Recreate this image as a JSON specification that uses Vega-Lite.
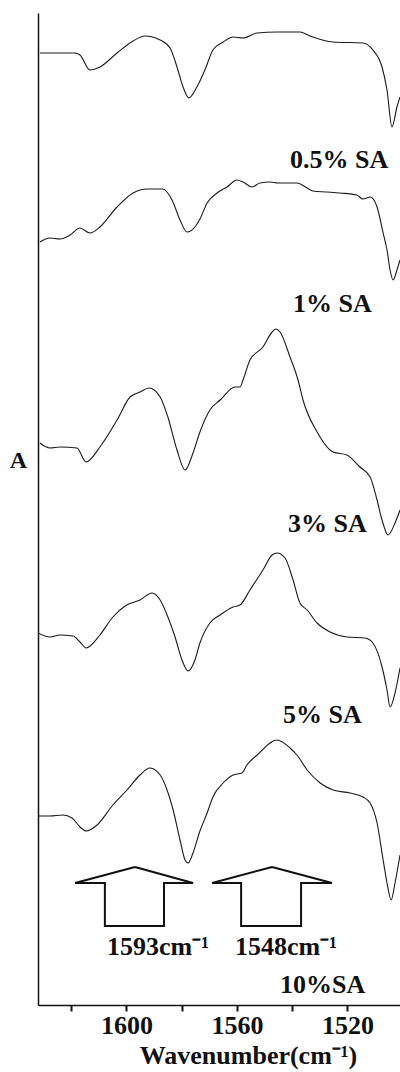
{
  "$schema": "https://vega.github.io/schema/vega-lite/v6.json",
  "autosize": {"type": "none"},
  "padding": {"left": 38, "top": 13, "right": 0, "bottom": 67},
  "width": 362,
  "height": 992,
  "background": "white",
  "config": {"view": {"stroke": null}},
  "datasets": {
    "spectra": [
      {"s":"0.5% SA","w":1631.3,"a":952},{"s":"0.5% SA","w":1618.6,"a":952},{"s":"0.5% SA","w":1616.8,"a":950},{"s":"0.5% SA","w":1613.2,"a":935},{"s":"0.5% SA","w":1609.6,"a":938},{"s":"0.5% SA","w":1603.4,"a":952},{"s":"0.5% SA","w":1597.6,"a":964},{"s":"0.5% SA","w":1593.3,"a":969},{"s":"0.5% SA","w":1587.8,"a":965},{"s":"0.5% SA","w":1584.2,"a":957},{"s":"0.5% SA","w":1581.7,"a":938},{"s":"0.5% SA","w":1579.5,"a":918},{"s":"0.5% SA","w":1577.4,"a":907},{"s":"0.5% SA","w":1574.5,"a":918},{"s":"0.5% SA","w":1571.6,"a":935},{"s":"0.5% SA","w":1568.7,"a":955},{"s":"0.5% SA","w":1565.0,"a":963},{"s":"0.5% SA","w":1561.4,"a":968},{"s":"0.5% SA","w":1557.8,"a":967},{"s":"0.5% SA","w":1552.7,"a":972},{"s":"0.5% SA","w":1545.5,"a":973},{"s":"0.5% SA","w":1537.2,"a":973},{"s":"0.5% SA","w":1533.6,"a":969},{"s":"0.5% SA","w":1525.2,"a":963},{"s":"0.5% SA","w":1514.4,"a":962},{"s":"0.5% SA","w":1510.8,"a":955},{"s":"0.5% SA","w":1507.5,"a":938},{"s":"0.5% SA","w":1505.7,"a":915},{"s":"0.5% SA","w":1503.9,"a":878},{"s":"0.5% SA","w":1502.1,"a":898},{"s":"0.5% SA","w":1501.0,"a":908},
      {"s":"1% SA","w":1631.3,"a":763},{"s":"1% SA","w":1627.7,"a":767},{"s":"1% SA","w":1624.0,"a":766},{"s":"1% SA","w":1620.4,"a":770},{"s":"1% SA","w":1616.8,"a":777},{"s":"1% SA","w":1613.2,"a":772},{"s":"1% SA","w":1609.6,"a":778},{"s":"1% SA","w":1603.4,"a":798},{"s":"1% SA","w":1597.6,"a":812},{"s":"1% SA","w":1592.6,"a":816},{"s":"1% SA","w":1586.8,"a":816},{"s":"1% SA","w":1583.5,"a":805},{"s":"1% SA","w":1580.6,"a":785},{"s":"1% SA","w":1578.1,"a":773},{"s":"1% SA","w":1575.2,"a":778},{"s":"1% SA","w":1573.4,"a":786},{"s":"1% SA","w":1570.8,"a":802},{"s":"1% SA","w":1567.2,"a":812},{"s":"1% SA","w":1563.6,"a":818},{"s":"1% SA","w":1560.0,"a":825},{"s":"1% SA","w":1557.8,"a":823},{"s":"1% SA","w":1554.6,"a":818},{"s":"1% SA","w":1551.7,"a":822},{"s":"1% SA","w":1548.0,"a":823},{"s":"1% SA","w":1545.1,"a":822},{"s":"1% SA","w":1538.3,"a":822},{"s":"1% SA","w":1534.6,"a":817},{"s":"1% SA","w":1532.5,"a":814},{"s":"1% SA","w":1527.4,"a":813},{"s":"1% SA","w":1522.7,"a":812},{"s":"1% SA","w":1516.6,"a":810},{"s":"1% SA","w":1514.4,"a":806},{"s":"1% SA","w":1511.8,"a":808},{"s":"1% SA","w":1509.3,"a":798},{"s":"1% SA","w":1507.1,"a":772},{"s":"1% SA","w":1505.7,"a":755},{"s":"1% SA","w":1504.6,"a":735},{"s":"1% SA","w":1503.5,"a":725},{"s":"1% SA","w":1502.1,"a":735},{"s":"1% SA","w":1501.0,"a":745},
      {"s":"3% SA","w":1631.3,"a":562},{"s":"3% SA","w":1627.7,"a":557},{"s":"3% SA","w":1624.0,"a":558},{"s":"3% SA","w":1617.9,"a":557},{"s":"3% SA","w":1614.6,"a":543},{"s":"3% SA","w":1609.6,"a":558},{"s":"3% SA","w":1603.4,"a":585},{"s":"3% SA","w":1598.7,"a":608},{"s":"3% SA","w":1595.1,"a":613},{"s":"3% SA","w":1591.8,"a":617},{"s":"3% SA","w":1587.8,"a":608},{"s":"3% SA","w":1585.0,"a":588},{"s":"3% SA","w":1581.7,"a":555},{"s":"3% SA","w":1578.8,"a":535},{"s":"3% SA","w":1575.9,"a":552},{"s":"3% SA","w":1573.4,"a":573},{"s":"3% SA","w":1569.8,"a":595},{"s":"3% SA","w":1566.1,"a":605},{"s":"3% SA","w":1560.7,"a":618},{"s":"3% SA","w":1558.9,"a":618},{"s":"3% SA","w":1557.8,"a":625},{"s":"3% SA","w":1555.3,"a":645},{"s":"3% SA","w":1550.6,"a":658},{"s":"3% SA","w":1547.3,"a":673},{"s":"3% SA","w":1545.9,"a":676},{"s":"3% SA","w":1544.4,"a":673},{"s":"3% SA","w":1540.8,"a":648},{"s":"3% SA","w":1537.9,"a":625},{"s":"3% SA","w":1536.1,"a":605},{"s":"3% SA","w":1531.0,"a":573},{"s":"3% SA","w":1525.2,"a":553},{"s":"3% SA","w":1520.2,"a":550},{"s":"3% SA","w":1515.5,"a":538},{"s":"3% SA","w":1511.8,"a":528},{"s":"3% SA","w":1509.3,"a":505},{"s":"3% SA","w":1507.5,"a":485},{"s":"3% SA","w":1505.3,"a":470},{"s":"3% SA","w":1502.8,"a":482},{"s":"3% SA","w":1501.0,"a":495},
      {"s":"5% SA","w":1632.0,"a":372},{"s":"5% SA","w":1627.7,"a":368},{"s":"5% SA","w":1624.0,"a":370},{"s":"5% SA","w":1619.3,"a":369},{"s":"5% SA","w":1616.8,"a":363},{"s":"5% SA","w":1614.6,"a":357},{"s":"5% SA","w":1609.6,"a":370},{"s":"5% SA","w":1604.9,"a":388},{"s":"5% SA","w":1600.5,"a":399},{"s":"5% SA","w":1595.1,"a":405},{"s":"5% SA","w":1590.7,"a":412},{"s":"5% SA","w":1587.8,"a":405},{"s":"5% SA","w":1585.0,"a":388},{"s":"5% SA","w":1582.4,"a":368},{"s":"5% SA","w":1579.9,"a":345},{"s":"5% SA","w":1577.7,"a":334},{"s":"5% SA","w":1575.2,"a":345},{"s":"5% SA","w":1573.4,"a":362},{"s":"5% SA","w":1569.8,"a":382},{"s":"5% SA","w":1566.1,"a":390},{"s":"5% SA","w":1561.4,"a":398},{"s":"5% SA","w":1558.9,"a":400},{"s":"5% SA","w":1555.3,"a":415},{"s":"5% SA","w":1550.6,"a":435},{"s":"5% SA","w":1547.3,"a":450},{"s":"5% SA","w":1545.5,"a":452},{"s":"5% SA","w":1542.6,"a":447},{"s":"5% SA","w":1539.7,"a":425},{"s":"5% SA","w":1537.2,"a":402},{"s":"5% SA","w":1534.6,"a":395},{"s":"5% SA","w":1531.0,"a":382},{"s":"5% SA","w":1526.3,"a":373},{"s":"5% SA","w":1520.2,"a":368},{"s":"5% SA","w":1513.7,"a":367},{"s":"5% SA","w":1510.8,"a":362},{"s":"5% SA","w":1507.5,"a":338},{"s":"5% SA","w":1505.7,"a":315},{"s":"5% SA","w":1504.6,"a":298},{"s":"5% SA","w":1502.8,"a":312},{"s":"5% SA","w":1501.0,"a":337},
      {"s":"10%SA","w":1632.0,"a":189},{"s":"10%SA","w":1627.7,"a":189},{"s":"10%SA","w":1623.0,"a":190},{"s":"10%SA","w":1619.7,"a":187},{"s":"10%SA","w":1616.8,"a":178},{"s":"10%SA","w":1614.6,"a":174},{"s":"10%SA","w":1610.6,"a":180},{"s":"10%SA","w":1604.9,"a":200},{"s":"10%SA","w":1599.8,"a":215},{"s":"10%SA","w":1595.1,"a":230},{"s":"10%SA","w":1591.5,"a":237},{"s":"10%SA","w":1587.8,"a":230},{"s":"10%SA","w":1585.3,"a":215},{"s":"10%SA","w":1583.1,"a":195},{"s":"10%SA","w":1580.6,"a":165},{"s":"10%SA","w":1578.8,"a":145},{"s":"10%SA","w":1577.7,"a":142},{"s":"10%SA","w":1575.9,"a":152},{"s":"10%SA","w":1573.4,"a":174},{"s":"10%SA","w":1570.8,"a":192},{"s":"10%SA","w":1568.7,"a":208},{"s":"10%SA","w":1565.0,"a":222},{"s":"10%SA","w":1561.4,"a":230},{"s":"10%SA","w":1558.2,"a":232},{"s":"10%SA","w":1556.4,"a":240},{"s":"10%SA","w":1552.7,"a":250},{"s":"10%SA","w":1545.5,"a":265},{"s":"10%SA","w":1540.8,"a":257},{"s":"10%SA","w":1538.3,"a":250},{"s":"10%SA","w":1534.6,"a":235},{"s":"10%SA","w":1529.9,"a":222},{"s":"10%SA","w":1525.2,"a":215},{"s":"10%SA","w":1519.1,"a":212},{"s":"10%SA","w":1514.4,"a":208},{"s":"10%SA","w":1511.8,"a":202},{"s":"10%SA","w":1509.3,"a":182},{"s":"10%SA","w":1507.1,"a":145},{"s":"10%SA","w":1505.7,"a":122},{"s":"10%SA","w":1504.2,"a":105},{"s":"10%SA","w":1502.8,"a":122},{"s":"10%SA","w":1501.0,"a":150}
    ],
    "arrows": [
      {"id":"1593","o":1,"w":1596.9,"a":138},{"id":"1593","o":2,"w":1618.6,"a":122},{"id":"1593","o":3,"w":1607.8,"a":122},{"id":"1593","o":4,"w":1607.8,"a":79},{"id":"1593","o":5,"w":1586.4,"a":79},{"id":"1593","o":6,"w":1586.4,"a":122},{"id":"1593","o":7,"w":1575.9,"a":122},{"id":"1593","o":8,"w":1596.9,"a":138},
      {"id":"1548","o":1,"w":1547.3,"a":138},{"id":"1548","o":2,"w":1569.0,"a":122},{"id":"1548","o":3,"w":1558.5,"a":122},{"id":"1548","o":4,"w":1558.5,"a":79},{"id":"1548","o":5,"w":1536.8,"a":79},{"id":"1548","o":6,"w":1536.8,"a":122},{"id":"1548","o":7,"w":1525.6,"a":122},{"id":"1548","o":8,"w":1547.3,"a":138}
    ],
    "labels": [
      {"t":"0.5% SA","w":1540.8,"a":837},
      {"t":"1% SA","w":1539.7,"a":693},
      {"t":"3% SA","w":1541.5,"a":473},
      {"t":"5% SA","w":1543.3,"a":282},
      {"t":"10%SA","w":1544.4,"a":12},
      {"t":"1593cm⁻¹","w":1607.0,"a":50},
      {"t":"1548cm⁻¹","w":1560.7,"a":50}
    ]
  },
  "layer": [
    {
      "data": {"name": "spectra"},
      "mark": {"type": "line", "color": "#1a1a1a", "strokeWidth": 1.1, "interpolate": "monotone", "clip": true},
      "encoding": {
        "x": {"field": "w", "type": "quantitative",
          "scale": {"domain": [1501, 1632], "reverse": true, "nice": false, "zero": false},
          "axis": {
            "values": [1620, 1600, 1580, 1560, 1540, 1520],
            "format": "d",
            "labelExpr": "datum.value % 40 == 0 ? datum.label : ''",
            "title": "Wavenumber(cm⁻¹)",
            "grid": false,
            "domainColor": "#111", "domainWidth": 1.5,
            "tickColor": "#111", "tickWidth": 2, "tickSize": 6,
            "labelFont": "Liberation Serif", "labelFontSize": 26, "labelFontWeight": "bold", "labelColor": "#111",
            "labelPadding": 1,
            "titleFont": "Liberation Serif", "titleFontSize": 26, "titleFontWeight": "bold", "titleColor": "#111",
            "titleBaseline": "alphabetic", "titleY": 58, "titleX": 210
          }},
        "y": {"field": "a", "type": "quantitative",
          "scale": {"domain": [0, 992], "nice": false, "zero": false},
          "axis": {
            "title": "A", "labels": false, "ticks": false, "grid": false,
            "domainColor": "#111", "domainWidth": 1.5,
            "titleFont": "Liberation Serif", "titleFontSize": 24, "titleFontWeight": "bold", "titleColor": "#111",
            "titleAngle": 0, "titleAlign": "center", "titleBaseline": "alphabetic", "titleX": -20, "titleY": 454
          }},
        "detail": {"field": "s", "type": "nominal"}
      }
    },
    {
      "data": {"name": "arrows"},
      "mark": {"type": "line", "color": "#111", "strokeWidth": 2},
      "encoding": {
        "x": {"field": "w", "type": "quantitative"},
        "y": {"field": "a", "type": "quantitative"},
        "detail": {"field": "id", "type": "nominal"},
        "order": {"field": "o", "type": "quantitative"}
      }
    },
    {
      "data": {"name": "labels"},
      "mark": {"type": "text", "align": "left", "baseline": "alphabetic", "font": "Liberation Serif", "fontSize": 26, "fontWeight": "bold", "color": "#111"},
      "encoding": {
        "x": {"field": "w", "type": "quantitative"},
        "y": {"field": "a", "type": "quantitative"},
        "text": {"field": "t", "type": "nominal"}
      }
    }
  ]
}
